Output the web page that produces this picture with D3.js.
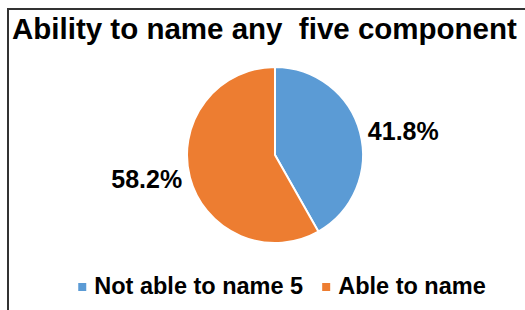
<!DOCTYPE html>
<html lang="en">
<head>
  <meta charset="UTF-8">
  <script src="https://d3js.org/d3.v7.min.js"></script>
  <title>Ability to name any five component</title>
  <style>
    body { margin: 0; background: #fff; }
    text { font-family: "Liberation Sans", Arial, sans-serif; font-weight: bold; fill: #000; }
  </style>
</head>
<body>
  <svg width="525" height="310"></svg>
  <script>
    const categories = ["Not able to name 5", "Able to name"];
    const values = [41.8, 58.2];
    const labels = ["41.8%", "58.2%"];
    const colors = ["#5B9BD5", "#ED7D31"];

    const svg = d3.select("svg");
    const cx = 275, cy = 155, r = 88;

    // frame (top and left edges visible)
    svg.append("path")
      .attr("d", "M8,310 L8,9 L525,9")
      .style("fill", "none")
      .style("stroke", "#333")
      .style("stroke-width", "2px");

    svg.append("text")
      .attr("x", 12)
      .attr("y", 39)
      .style("font-size", "29.5px")
      .text("Ability to name any\u00a0 five component");

    const pie = d3.pie().sort(null).value(d => d);
    const arcs = pie(values);
    const arc = d3.arc().innerRadius(0).outerRadius(r);

    const g = svg.append("g").attr("transform", `translate(${cx},${cy})`);

    g.selectAll("path.slice")
      .data(arcs)
      .enter()
      .append("path")
      .attr("class", "slice")
      .attr("d", arc)
      .style("fill", (d, i) => colors[i])
      .style("stroke", "#fff")
      .style("stroke-width", "2px");

    const labelArc = d3.arc().innerRadius(r + 8).outerRadius(r + 8);
    g.selectAll("text.lbl")
      .data(arcs)
      .enter()
      .append("text")
      .attr("class", "lbl")
      .attr("x", d => labelArc.centroid(d)[0])
      .attr("y", d => labelArc.centroid(d)[1] + 9)
      .attr("text-anchor", d => (d.startAngle + d.endAngle) / 2 < Math.PI ? "start" : "end")
      .style("font-size", "25px")
      .text((d, i) => labels[i]);

    // legend, centred
    const legend = svg.append("g");
    let x = 0;
    categories.forEach((c, i) => {
      const item = legend.append("g").attr("transform", `translate(${x},0)`);
      item.append("rect")
        .attr("x", 0).attr("y", -11)
        .attr("width", 8).attr("height", 8)
        .style("fill", colors[i]);
      const t = item.append("text")
        .attr("x", 16)
        .attr("y", 0)
        .style("font-size", "23.5px")
        .text(c);
      x += 16 + t.node().getComputedTextLength() + 19;
    });
    const w = x - 19;
    legend.attr("transform", `translate(${282 - w / 2},294)`);
  </script>
</body>
</html>
